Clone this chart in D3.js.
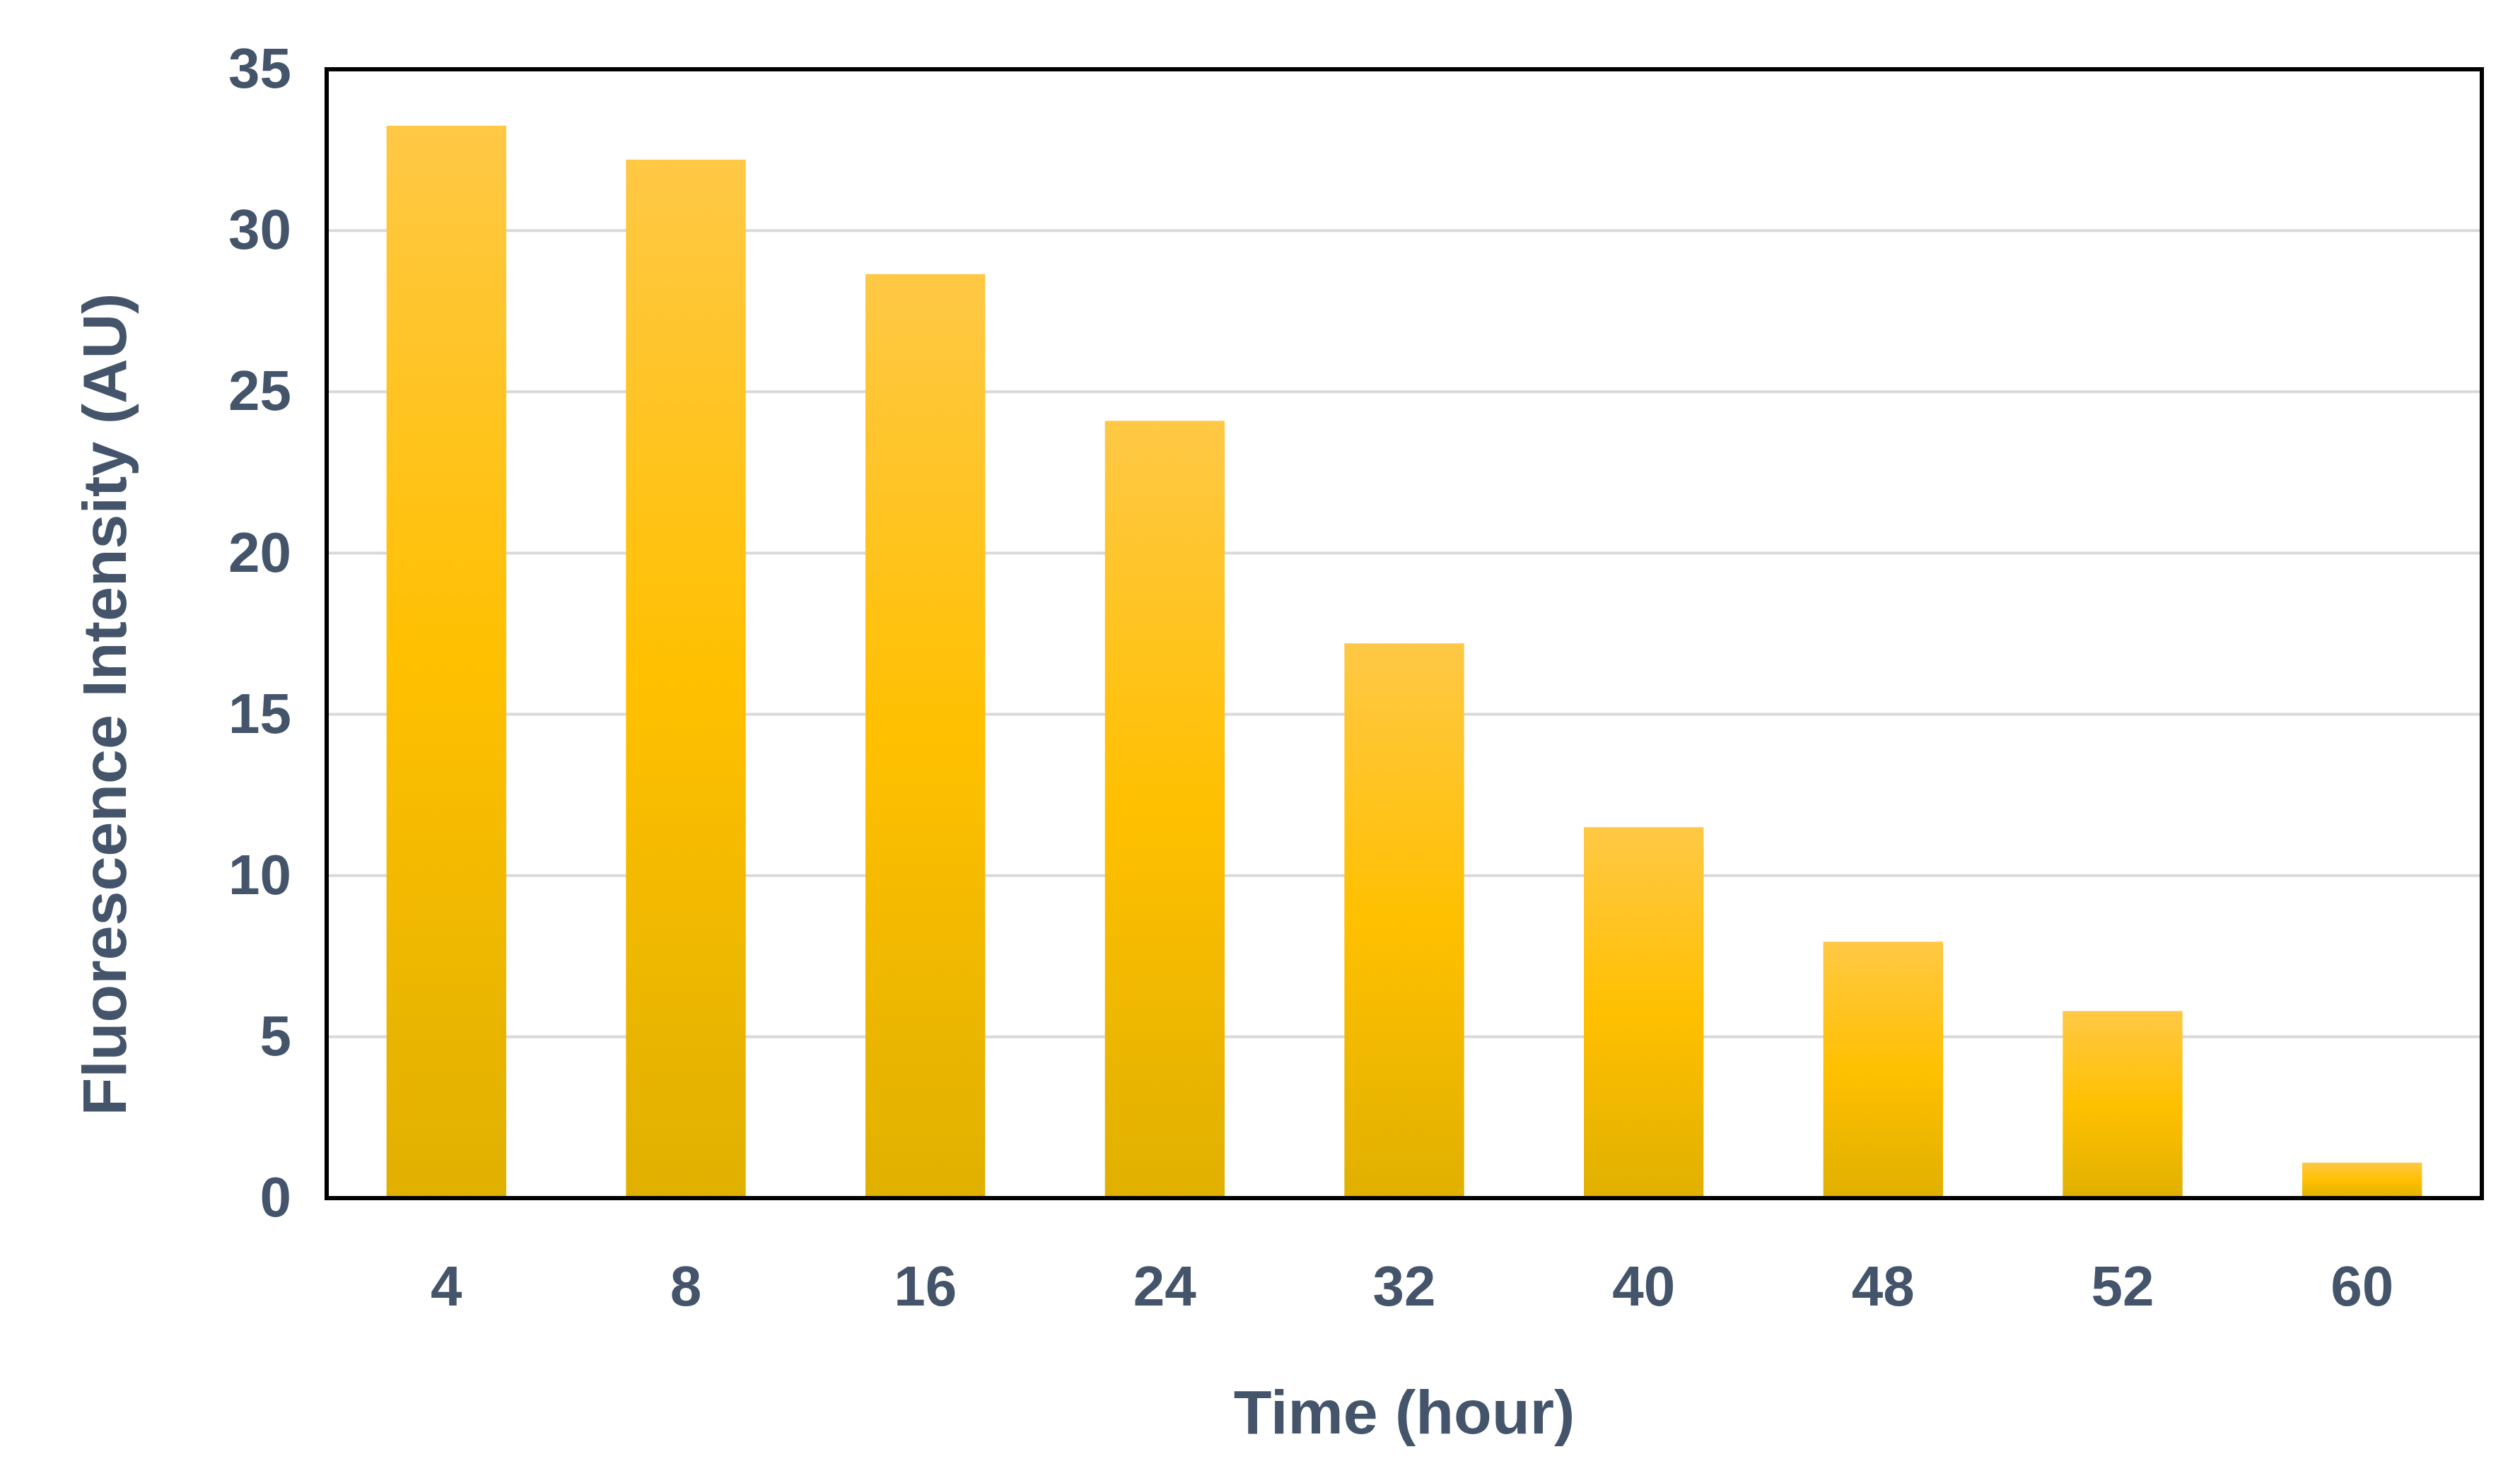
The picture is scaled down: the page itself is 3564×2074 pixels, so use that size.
<!DOCTYPE html>
<html><head><meta charset="utf-8">
<script src="https://cdn.jsdelivr.net/npm/d3@7"></script>
<style>body{margin:0;background:#fff}</style>
</head><body>
<svg id="c" width="3564" height="2074"></svg>
<script>
const categories = ["4","8","16","24","32","40","48","52","60"];
const values = [33.25,32.2,28.65,24.1,17.2,11.5,7.95,5.8,1.1];
const yTicks = [0,5,10,15,20,25,30,35];

const svg = d3.select("#c");
const m = {l:462, t:98, r:3510, b:1695};
const x = d3.scaleBand().domain(categories).range([m.l,m.r]).paddingInner(0.5).paddingOuter(0.25);
const y = d3.scaleLinear().domain([0,35]).range([m.b,m.t]);
const txt = "#44546A";
const font = "'Liberation Sans', Arial, sans-serif";

const defs = svg.append("defs");
const g = defs.append("linearGradient").attr("id","gr").attr("x1",0).attr("y1",0).attr("x2",0).attr("y2",1);
g.append("stop").attr("offset","0%").attr("stop-color","#FFC845");
g.append("stop").attr("offset","50%").attr("stop-color","#FFC000");
g.append("stop").attr("offset","100%").attr("stop-color","#E0B000");

svg.append("g").selectAll("line").data(yTicks.slice(1)).join("line")
  .attr("x1",m.l).attr("x2",m.r).attr("y1",d=>y(d)).attr("y2",d=>y(d))
  .attr("stroke","#D9D9D9").attr("stroke-width",4);

svg.append("g").selectAll("rect").data(values).join("rect")
  .attr("x",(d,i)=>x(categories[i])).attr("width",x.bandwidth())
  .attr("y",d=>y(d)).attr("height",d=>y(0)-y(d)).attr("fill","url(#gr)");

svg.append("rect").attr("x",m.l).attr("y",m.t).attr("width",m.r-m.l).attr("height",m.b-m.t)
  .attr("fill","none").attr("stroke","#000").attr("stroke-width",6);

const ya = svg.append("g").attr("transform",`translate(${m.l},0)`)
  .call(d3.axisLeft(y).tickValues(yTicks).tickSize(0).tickPadding(50));
ya.select(".domain").remove();
ya.selectAll("text").attr("font-size",80).attr("font-weight","bold").attr("fill",txt).attr("font-family",font);

const xa = svg.append("g").attr("transform",`translate(0,${m.b})`)
  .call(d3.axisBottom(x).tickSize(0).tickPadding(95));
xa.select(".domain").remove();
xa.selectAll("text").attr("font-size",80).attr("font-weight","bold").attr("fill",txt).attr("font-family",font);

svg.append("text").attr("x",(m.l+m.r)/2).attr("y",2028).attr("text-anchor","middle")
  .attr("font-size",88).attr("font-weight","bold").attr("fill",txt).attr("font-family",font).text("Time (hour)");
svg.append("text").attr("transform",`translate(178,${(m.t+m.b)/2+100}) rotate(-90)`).attr("text-anchor","middle")
  .attr("font-size",88).attr("font-weight","bold").attr("fill",txt).attr("font-family",font).text("Fluorescence Intensity (AU)");
</script>
</body></html>
